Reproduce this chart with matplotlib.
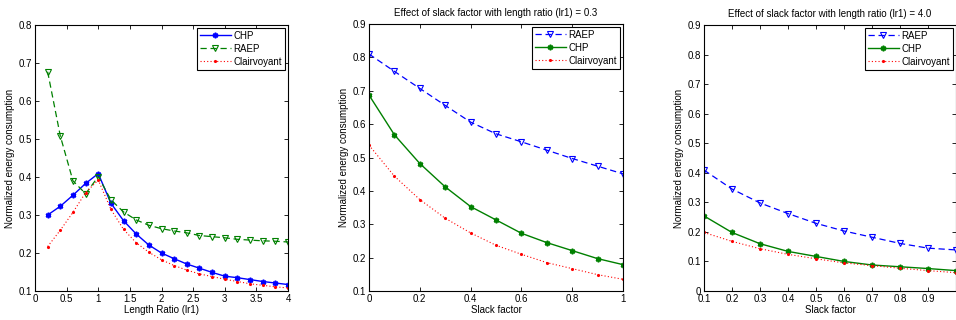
import matplotlib
matplotlib.use("Agg")
import matplotlib.pyplot as plt
import numpy as np

plt.rcParams['font.family'] = ['Liberation Sans Narrow', 'Liberation Sans', 'DejaVu Sans']
plt.rcParams['font.size'] = 7

# Panel 1: energy vs length ratio
lr = [0.2, 0.4, 0.6, 0.8, 1.0, 1.2, 1.4, 1.6, 1.8, 2.0,
      2.2, 2.4, 2.6, 2.8, 3.0, 3.2, 3.4, 3.6, 3.8, 4.0]
chp1 = [0.300, 0.323, 0.352, 0.383, 0.409, 0.331, 0.285, 0.250, 0.221, 0.200,
        0.185, 0.171, 0.160, 0.149, 0.139, 0.135, 0.130, 0.125, 0.121, 0.117]
raep1 = [0.677, 0.508, 0.390, 0.356, 0.401, 0.340, 0.308, 0.287, 0.273, 0.264,
         0.258, 0.253, 0.246, 0.243, 0.240, 0.236, 0.234, 0.232, 0.231, 0.229]
clair1 = [0.217, 0.260, 0.307, 0.359, 0.392, 0.315, 0.262, 0.227, 0.202, 0.182,
          0.167, 0.155, 0.145, 0.138, 0.131, 0.125, 0.119, 0.115, 0.111, 0.108]

# Panel 2: slack factor, lr1 = 0.3
slack2 = [0.0, 0.1, 0.2, 0.3, 0.4, 0.5, 0.6, 0.7, 0.8, 0.9, 1.0]
raep2 = [0.810, 0.758, 0.707, 0.656, 0.606, 0.571, 0.547, 0.522, 0.497, 0.474, 0.451]
chp2 = [0.687, 0.568, 0.482, 0.412, 0.353, 0.313, 0.273, 0.245, 0.221, 0.197, 0.179]
clair2 = [0.537, 0.444, 0.374, 0.318, 0.274, 0.237, 0.210, 0.185, 0.167, 0.149, 0.135]

# Panel 3: slack factor, lr1 = 4.0
slack3 = [0.1, 0.2, 0.3, 0.4, 0.5, 0.6, 0.7, 0.8, 0.9, 1.0]
raep3 = [0.409, 0.345, 0.298, 0.262, 0.229, 0.203, 0.182, 0.161, 0.145, 0.139]
chp3 = [0.254, 0.198, 0.160, 0.134, 0.117, 0.100, 0.088, 0.082, 0.076, 0.069]
clair3 = [0.198, 0.168, 0.143, 0.124, 0.109, 0.095, 0.086, 0.077, 0.069, 0.062]

ASTER = (6, 2, 0)
DASH = (0, (5, 3))
DOT = (0, (1, 2))


def style_axes(ax):
    ax.tick_params(direction='in', length=3, width=0.6, top=True, right=True, pad=2)
    for s in ax.spines.values():
        s.set_linewidth(0.8)


def add_legend(ax):
    leg = ax.legend(loc='upper right', fancybox=False, edgecolor='black',
                    framealpha=1, handlelength=3.2, handletextpad=0.3,
                    borderpad=0.3, labelspacing=0.3, borderaxespad=0.3)
    leg.get_frame().set_linewidth(0.8)


fig = plt.figure(figsize=(9.56, 3.2), dpi=100)
W, H = 956.0, 320.0

ax1 = fig.add_axes([35 / W, 1 - 291 / H, 253 / W, 266 / H])
ax1.plot(lr, chp1, ls='-', color='blue', marker=ASTER, ms=4, mew=1.2, lw=1, label='CHP')
ax1.plot(lr, raep1, ls=DASH, color='green', marker='v', ms=5, mfc='none', mew=0.8, lw=0.9, label='RAEP')
ax1.plot(lr, clair1, ls=DOT, color='red', marker='.', ms=2.5, lw=0.8, label='Clairvoyant')
ax1.set_xlim(0, 4)
ax1.set_ylim(0.1, 0.8)
ax1.set_xticks(np.arange(0, 4.01, 0.5))
ax1.set_xticklabels(['0', '0.5', '1', '1.5', '2', '2.5', '3', '3.5', '4'])
ax1.set_xlabel('Length Ratio (lr1)', labelpad=1)
ax1.set_ylabel('Normalized energy consumption', labelpad=3)
style_axes(ax1)
add_legend(ax1)

ax2 = fig.add_axes([369 / W, 1 - 291 / H, 254 / W, 267 / H])
ax2.plot(slack2, raep2, ls=DASH, color='blue', marker='v', ms=5, mfc='none', mew=0.8, lw=0.9, label='RAEP')
ax2.plot(slack2, chp2, ls='-', color='green', marker=ASTER, ms=4, mew=1.2, lw=1, label='CHP')
ax2.plot(slack2, clair2, ls=DOT, color='red', marker='.', ms=2.5, lw=0.8, label='Clairvoyant')
ax2.set_xlim(0, 1)
ax2.set_ylim(0.1, 0.9)
ax2.set_xticks([0, 0.2, 0.4, 0.6, 0.8, 1])
ax2.set_xticklabels(['0', '0.2', '0.4', '0.6', '0.8', '1'])
ax2.set_xlabel('Slack factor', labelpad=1)
ax2.set_ylabel('Normalized energy consumption', labelpad=3)
ax2.set_title('Effect of slack factor with length ratio (lr1) = 0.3', fontsize=7, pad=6)
style_axes(ax2)
add_legend(ax2)

ax3 = fig.add_axes([704 / W, 1 - 291 / H, 252 / W, 266 / H])
ax3.plot(slack3, raep3, ls=DASH, color='blue', marker='v', ms=5, mfc='none', mew=0.8, lw=0.9, label='RAEP')
ax3.plot(slack3, chp3, ls='-', color='green', marker=ASTER, ms=4, mew=1.2, lw=1, label='CHP')
ax3.plot(slack3, clair3, ls=DOT, color='red', marker='.', ms=2.5, lw=0.8, label='Clairvoyant')
ax3.set_xlim(0.1, 1.0)
ax3.set_ylim(0, 0.9)
ax3.set_xticks([0.1, 0.2, 0.3, 0.4, 0.5, 0.6, 0.7, 0.8, 0.9])
ax3.set_yticks(np.arange(0, 0.91, 0.1))
ax3.set_yticklabels(['0', '0.1', '0.2', '0.3', '0.4', '0.5', '0.6', '0.7', '0.8', '0.9'])
ax3.set_xlabel('Slack factor', labelpad=1)
ax3.set_ylabel('Normalized energy consumption', labelpad=3)
ax3.set_title('Effect of slack factor with length ratio (lr1) = 4.0', fontsize=7, pad=6)
style_axes(ax3)
add_legend(ax3)

fig.savefig('out.png', dpi=100)
